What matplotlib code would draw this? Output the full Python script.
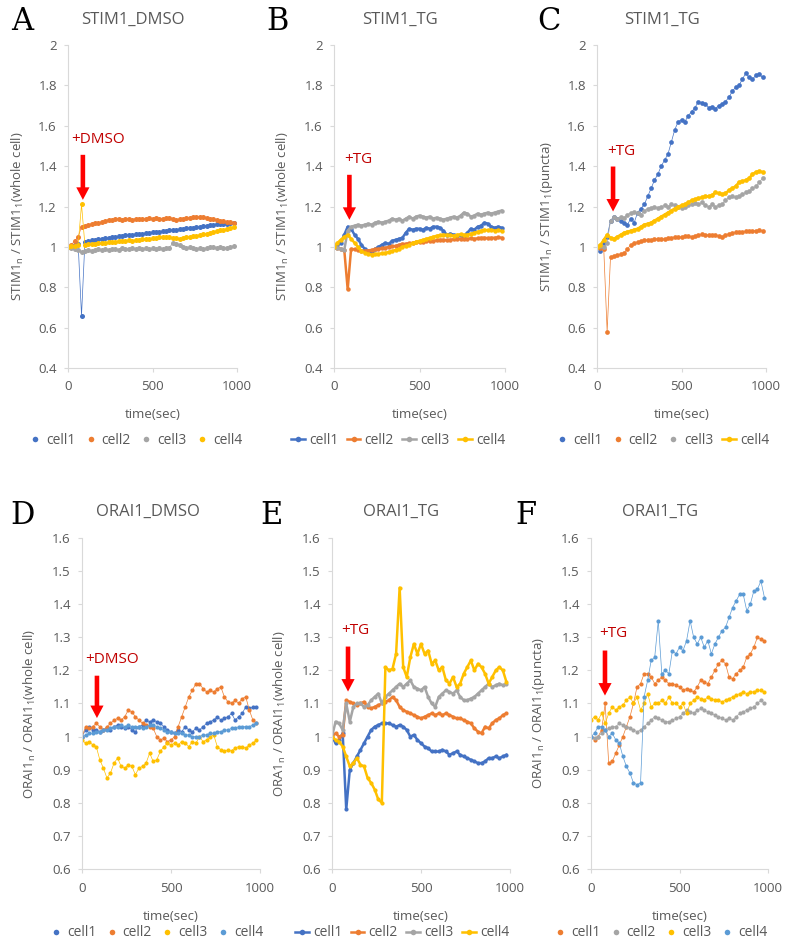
import matplotlib
matplotlib.use('Agg')
import matplotlib.pyplot as plt
from matplotlib.lines import Line2D

plt.rcParams['font.family'] = ['Open Sans', 'DejaVu Sans']
plt.rcParams['mathtext.default'] = 'regular'
plt.rcParams['axes.labelweight'] = 'normal'

# sampling times (sec), shared by all panels
time_sec = [0, 20, 40, 60, 80, 100, 120, 140, 160, 180,
            200, 220, 240, 260, 280, 300, 320, 340, 360, 380,
            400, 420, 440, 460, 480, 500, 520, 540, 560, 580,
            600, 620, 640, 660, 680, 700, 720, 740, 760, 780,
            800, 820, 840, 860, 880, 900, 920, 940, 960, 980]

# A  STIM1_DMSO (whole cell)
a_cell1 = [1.00, 1.005, 1.01, 1.015, 0.66, 1.025, 1.03, 1.032, 1.035, 1.038,
           1.04, 1.042, 1.045, 1.048, 1.05, 1.052, 1.055, 1.057, 1.058, 1.06,
           1.062, 1.065, 1.066, 1.068, 1.07, 1.072, 1.074, 1.075, 1.078, 1.08,
           1.082, 1.084, 1.085, 1.088, 1.09, 1.092, 1.093, 1.095, 1.097, 1.10,
           1.102, 1.105, 1.108, 1.11, 1.112, 1.112, 1.115, 1.115, 1.118, 1.12]
a_cell2 = [1.00, 1.01, 1.03, 1.05, 1.10, 1.105, 1.11, 1.115, 1.12, 1.118,
           1.125, 1.13, 1.135, 1.132, 1.14, 1.138, 1.135, 1.14, 1.138, 1.135,
           1.14, 1.138, 1.136, 1.14, 1.142, 1.14, 1.145, 1.14, 1.138, 1.142,
           1.145, 1.14, 1.135, 1.138, 1.14, 1.142, 1.145, 1.148, 1.15, 1.148,
           1.15, 1.145, 1.14, 1.138, 1.135, 1.13, 1.128, 1.125, 1.122, 1.12]
a_cell3 = [1.00, 0.995, 0.99, 0.985, 0.975, 0.98, 0.985, 0.982, 0.985, 0.988,
           0.985, 0.99, 0.985, 0.988, 0.99, 0.985, 0.992, 0.988, 0.99, 0.995,
           0.99, 0.992, 0.988, 0.995, 0.99, 0.993, 0.99, 0.995, 0.99, 0.992,
           0.995, 1.02, 1.015, 1.01, 1.0, 0.995, 0.998, 0.992, 0.99, 0.995,
           0.99, 0.995, 0.998, 1.0, 0.995, 1.0, 0.992, 0.995, 1.0, 1.005]
a_cell4 = [1.00, 1.002, 1.005, 1.01, 1.21, 1.01, 1.012, 1.015, 1.015, 1.018,
           1.02, 1.02, 1.022, 1.025, 1.025, 1.03, 1.028, 1.03, 1.032, 1.03,
           1.035, 1.035, 1.038, 1.04, 1.04, 1.043, 1.045, 1.048, 1.05, 1.05,
           1.048, 1.045, 1.042, 1.04, 1.045, 1.05, 1.048, 1.052, 1.055, 1.06,
           1.062, 1.065, 1.07, 1.075, 1.08, 1.082, 1.085, 1.09, 1.095, 1.10]

# B  STIM1_TG (whole cell)
b_cell1 = [1.00, 1.01, 1.02, 1.06, 1.10, 1.09, 1.06, 1.04, 1.01, 0.99,
           0.98, 0.975, 0.99, 1.0, 1.01, 1.02, 1.015, 1.03, 1.035, 1.04,
           1.045, 1.07, 1.09, 1.085, 1.09, 1.09, 1.085, 1.095, 1.09, 1.10,
           1.10, 1.095, 1.08, 1.06, 1.065, 1.06, 1.055, 1.06, 1.05, 1.07,
           1.09, 1.085, 1.10, 1.105, 1.12, 1.115, 1.10, 1.095, 1.10, 1.095]
b_cell2 = [1.00, 0.995, 0.99, 0.985, 0.79, 0.99, 0.988, 0.985, 0.982, 0.98,
           0.982, 0.985, 0.988, 0.99, 0.992, 0.995, 1.0, 1.002, 1.005, 1.01,
           1.015, 1.015, 1.018, 1.02, 1.022, 1.025, 1.025, 1.028, 1.03, 1.03,
           1.032, 1.035, 1.035, 1.033, 1.035, 1.038, 1.038, 1.04, 1.04, 1.04,
           1.042, 1.04, 1.042, 1.045, 1.045, 1.043, 1.045, 1.045, 1.047, 1.045]
b_cell3 = [1.00, 0.995, 0.99, 0.985, 1.08, 1.10, 1.105, 1.11, 1.105, 1.11,
           1.115, 1.11, 1.12, 1.125, 1.12, 1.125, 1.13, 1.14, 1.135, 1.14,
           1.13, 1.14, 1.15, 1.14, 1.15, 1.155, 1.15, 1.145, 1.15, 1.14,
           1.145, 1.14, 1.135, 1.14, 1.145, 1.15, 1.145, 1.155, 1.17, 1.165,
           1.15, 1.155, 1.165, 1.16, 1.165, 1.17, 1.165, 1.17, 1.175, 1.18]
b_cell4 = [1.00, 1.02, 1.035, 1.05, 1.06, 1.04, 1.02, 1.0, 0.98, 0.97,
           0.965, 0.962, 0.965, 0.965, 0.968, 0.97, 0.975, 0.98, 0.985, 0.99,
           1.0, 1.005, 1.01, 1.02, 1.025, 1.03, 1.035, 1.04, 1.045, 1.05,
           1.055, 1.058, 1.06, 1.06, 1.058, 1.055, 1.06, 1.062, 1.06, 1.06,
           1.065, 1.07, 1.075, 1.08, 1.085, 1.082, 1.085, 1.08, 1.082, 1.078]

# C  STIM1_TG (puncta)
c_cell1 = [1.00, 0.98, 1.02, 1.05, 1.13, 1.15, 1.14, 1.13, 1.12, 1.11,
           1.14, 1.12, 1.17, 1.19, 1.21, 1.25, 1.29, 1.33, 1.36, 1.40,
           1.43, 1.46, 1.52, 1.58, 1.62, 1.63, 1.62, 1.65, 1.67, 1.69,
           1.72, 1.715, 1.71, 1.69, 1.695, 1.685, 1.70, 1.71, 1.72, 1.74,
           1.77, 1.79, 1.80, 1.83, 1.86, 1.84, 1.83, 1.85, 1.855, 1.84]
c_cell2 = [1.00, 0.995, 0.99, 0.58, 0.95, 0.955, 0.96, 0.965, 0.97, 0.99,
           1.01, 1.02, 1.025, 1.03, 1.032, 1.035, 1.035, 1.04, 1.04, 1.038,
           1.04, 1.045, 1.045, 1.05, 1.05, 1.048, 1.052, 1.055, 1.05, 1.055,
           1.06, 1.062, 1.06, 1.058, 1.06, 1.06, 1.055, 1.05, 1.06, 1.065,
           1.07, 1.072, 1.075, 1.075, 1.078, 1.08, 1.08, 1.08, 1.082, 1.08]
c_cell3 = [1.00, 1.005, 1.0, 1.02, 1.13, 1.15, 1.14, 1.15, 1.145, 1.16,
           1.17, 1.175, 1.17, 1.16, 1.18, 1.19, 1.195, 1.20, 1.195, 1.20,
           1.205, 1.20, 1.21, 1.205, 1.20, 1.195, 1.20, 1.205, 1.21, 1.215,
           1.21, 1.22, 1.205, 1.20, 1.21, 1.20, 1.205, 1.21, 1.23, 1.245,
           1.25, 1.245, 1.25, 1.26, 1.27, 1.275, 1.29, 1.30, 1.32, 1.34]
c_cell4 = [1.00, 1.01, 1.035, 1.06, 1.045, 1.04, 1.05, 1.06, 1.07, 1.075,
           1.08, 1.085, 1.09, 1.10, 1.11, 1.115, 1.12, 1.13, 1.14, 1.15,
           1.16, 1.17, 1.18, 1.19, 1.20, 1.205, 1.21, 1.22, 1.23, 1.235,
           1.24, 1.245, 1.25, 1.25, 1.255, 1.27, 1.265, 1.26, 1.265, 1.28,
           1.29, 1.30, 1.32, 1.325, 1.33, 1.34, 1.36, 1.37, 1.375, 1.37]

# D  ORAI1_DMSO (whole cell)
d_cell1 = [1.00, 1.02, 1.03, 1.02, 1.02, 1.015, 1.02, 1.025, 1.02, 1.03,
           1.035, 1.03, 1.025, 1.03, 1.02, 1.015, 1.03, 1.035, 1.05, 1.045,
           1.05, 1.045, 1.04, 1.03, 1.02, 1.015, 1.01, 1.02, 1.015, 1.03,
           1.02, 1.015, 1.025, 1.02, 1.03, 1.04, 1.045, 1.05, 1.06, 1.05,
           1.055, 1.06, 1.07, 1.05, 1.06, 1.07, 1.09, 1.085, 1.09, 1.09]
d_cell2 = [1.00, 1.03, 1.025, 1.03, 1.04, 1.03, 1.02, 1.03, 1.04, 1.05,
           1.055, 1.05, 1.06, 1.08, 1.075, 1.06, 1.05, 1.04, 1.035, 1.03,
           1.025, 1.0, 0.99, 0.995, 0.985, 0.99, 1.0, 1.03, 1.06, 1.09,
           1.12, 1.14, 1.16, 1.16, 1.145, 1.135, 1.14, 1.135, 1.145, 1.15,
           1.12, 1.105, 1.10, 1.11, 1.10, 1.115, 1.12, 1.08, 1.05, 1.04]
d_cell3 = [0.99, 0.98, 0.985, 0.975, 0.97, 0.93, 0.905, 0.875, 0.89, 0.92,
           0.935, 0.91, 0.905, 0.915, 0.91, 0.885, 0.905, 0.91, 0.92, 0.95,
           0.925, 0.93, 0.955, 0.97, 0.98, 0.975, 0.98, 0.975, 0.985, 0.98,
           0.97, 0.985, 0.98, 1.0, 0.985, 0.99, 1.0, 1.005, 0.97, 0.96,
           0.955, 0.96, 0.958, 0.965, 0.97, 0.97, 0.965, 0.975, 0.98, 0.99]
d_cell4 = [1.00, 1.005, 1.01, 1.01, 1.015, 1.015, 1.02, 1.02, 1.025, 1.03,
           1.03, 1.035, 1.03, 1.035, 1.03, 1.03, 1.03, 1.025, 1.03, 1.035,
           1.035, 1.03, 1.025, 1.02, 1.015, 1.015, 1.01, 1.01, 1.01, 1.005,
           1.005, 1.0, 1.0, 1.0, 1.005, 1.005, 1.01, 1.01, 1.015, 1.015,
           1.02, 1.02, 1.025, 1.025, 1.03, 1.03, 1.03, 1.03, 1.035, 1.04]

# E  ORAI1_TG (whole cell)
e_cell1 = [1.00, 0.98, 0.99, 1.01, 0.78, 0.90, 0.92, 0.94, 0.96, 0.98,
           1.0, 1.02, 1.03, 1.035, 1.04, 1.04, 1.04, 1.035, 1.03, 1.035,
           1.03, 1.02, 1.0, 1.005, 0.99, 0.98, 0.97, 0.965, 0.955, 0.955,
           0.955, 0.96, 0.955, 0.945, 0.95, 0.955, 0.945, 0.94, 0.935, 0.93,
           0.925, 0.92, 0.92, 0.925, 0.935, 0.935, 0.94, 0.935, 0.94, 0.945]
e_cell2 = [1.00, 1.01, 1.0, 1.005, 1.11, 1.105, 1.10, 1.095, 1.10, 1.105,
           1.09, 1.085, 1.09, 1.095, 1.10, 1.105, 1.11, 1.12, 1.11, 1.09,
           1.08, 1.075, 1.07, 1.065, 1.06, 1.055, 1.06, 1.065, 1.07, 1.065,
           1.07, 1.065, 1.07, 1.065, 1.06, 1.055, 1.055, 1.05, 1.045, 1.04,
           1.025, 1.015, 1.01, 1.03, 1.025, 1.04, 1.05, 1.055, 1.065, 1.07]
e_cell3 = [1.00, 1.045, 1.04, 1.02, 1.10, 1.045, 1.09, 1.10, 1.10, 1.09,
           1.095, 1.11, 1.12, 1.13, 1.10, 1.12, 1.13, 1.14, 1.15, 1.16,
           1.15, 1.16, 1.17, 1.15, 1.145, 1.14, 1.15, 1.12, 1.10, 1.09,
           1.12, 1.13, 1.14, 1.135, 1.13, 1.14, 1.12, 1.11, 1.11, 1.115,
           1.12, 1.13, 1.14, 1.15, 1.16, 1.15, 1.155, 1.16, 1.155, 1.16]
e_cell4 = [1.00, 0.99, 0.985, 0.97, 0.94, 0.91, 0.92, 0.935, 0.915, 0.91,
           0.875, 0.86, 0.84, 0.81, 0.80, 1.21, 1.20, 1.205, 1.25, 1.45,
           1.21, 1.18, 1.24, 1.28, 1.25, 1.28, 1.25, 1.26, 1.22, 1.23,
           1.20, 1.21, 1.17, 1.16, 1.18, 1.15, 1.16, 1.19, 1.21, 1.23,
           1.20, 1.22, 1.21, 1.19, 1.16, 1.18, 1.20, 1.21, 1.20, 1.165]

# F  ORAI1_TG (puncta)
f_cell1 = [1.00, 0.99, 1.0, 1.02, 1.10, 0.92, 0.925, 0.95, 0.975, 1.0,
           1.03, 1.06, 1.10, 1.15, 1.16, 1.19, 1.19, 1.18, 1.16, 1.17,
           1.18, 1.17, 1.16, 1.16, 1.155, 1.15, 1.14, 1.145, 1.14, 1.135,
           1.15, 1.17, 1.165, 1.16, 1.18, 1.20, 1.22, 1.23, 1.22, 1.18,
           1.175, 1.19, 1.20, 1.21, 1.24, 1.25, 1.27, 1.30, 1.295, 1.29]
f_cell2 = [1.00, 0.995, 1.0, 1.01, 1.02, 1.025, 1.03, 1.03, 1.04, 1.035,
           1.03, 1.025, 1.02, 1.015, 1.02, 1.03, 1.04, 1.05, 1.06, 1.055,
           1.05, 1.045, 1.045, 1.05, 1.055, 1.06, 1.07, 1.08, 1.075, 1.07,
           1.08, 1.085, 1.08, 1.075, 1.07, 1.065, 1.06, 1.055, 1.05, 1.055,
           1.05, 1.06, 1.07, 1.075, 1.08, 1.085, 1.09, 1.10, 1.11, 1.10]
f_cell3 = [1.05, 1.06, 1.05, 1.07, 1.04, 1.07, 1.09, 1.08, 1.09, 1.095,
           1.11, 1.12, 1.10, 1.12, 1.08, 1.10, 1.13, 1.09, 1.10, 1.10,
           1.11, 1.10, 1.12, 1.10, 1.10, 1.09, 1.10, 1.07, 1.10, 1.11,
           1.12, 1.115, 1.11, 1.12, 1.115, 1.11, 1.11, 1.105, 1.11, 1.115,
           1.12, 1.125, 1.13, 1.135, 1.13, 1.135, 1.135, 1.14, 1.14, 1.135]
f_cell4 = [1.00, 1.01, 1.03, 1.03, 1.02, 1.0, 1.01, 0.99, 0.98, 0.94,
           0.91, 0.89, 0.86, 0.855, 0.86, 1.12, 1.17, 1.23, 1.24, 1.35,
           1.19, 1.2, 1.19, 1.26, 1.25, 1.27, 1.26, 1.29, 1.35, 1.30,
           1.28, 1.30, 1.27, 1.29, 1.25, 1.28, 1.30, 1.32, 1.33, 1.36,
           1.39, 1.41, 1.43, 1.43, 1.38, 1.40, 1.44, 1.445, 1.47, 1.42]

cell_names = ['cell1', 'cell2', 'cell3', 'cell4']
stim_yticks = [0.4, 0.6, 0.8, 1.0, 1.2, 1.4, 1.6, 1.8, 2.0]
stim_ylabels = ['0.4', '0.6', '0.8', '1', '1.2', '1.4', '1.6', '1.8', '2']
orai_yticks = [0.6, 0.7, 0.8, 0.9, 1.0, 1.1, 1.2, 1.3, 1.4, 1.5, 1.6]
orai_ylabels = ['0.6', '0.7', '0.8', '0.9', '1', '1.1', '1.2', '1.3', '1.4', '1.5', '1.6']

BLUE = '#4472C4'
ORANGE = '#ED7D31'
GREY = '#A5A5A5'
YELLOW = '#FFC000'
LBLUE = '#5B9BD5'
TXT = '#595959'
AXC = '#D9D9D9'

W, H = 786, 952
fig = plt.figure(figsize=(W / 100, H / 100), dpi=100)


def add_ax(left, right, top, bottom):
    return fig.add_axes([left / W, 1 - bottom / H, (right - left) / W, (bottom - top) / H])


def panel(box, series, colors, styles, yticks, ylabels, ylabel, title, title_xy,
          letter, letter_xy, arrow, leg_xy, ms=3.0):
    ax = add_ax(*box)
    for y, c, st in zip(series, colors, styles):
        if st == 'line':
            ax.plot(time_sec, y, color=c, lw=1.8, marker='o', ms=ms, mew=0)
        else:
            ax.plot(time_sec, y, color=c, lw=0.5, marker='o', ms=ms, mew=0)
    ax.set_xlim(0, 1000)
    ax.set_ylim(yticks[0], yticks[-1])
    ax.set_xticks([0, 500, 1000])
    ax.set_yticks(yticks)
    ax.set_yticklabels(ylabels)
    for s in ['top', 'right']:
        ax.spines[s].set_visible(False)
    for s in ['left', 'bottom']:
        ax.spines[s].set_color(AXC)
        ax.spines[s].set_linewidth(0.8)
    ax.tick_params(axis='both', colors=AXC, labelcolor=TXT, labelsize=9.5, length=3, width=0.8)
    ax.tick_params(axis='x', pad=6)
    ax.tick_params(axis='y', pad=5)
    ax.set_xlabel('time(sec)', color=TXT, fontsize=9.5, fontweight='normal')
    ax.xaxis.set_label_coords(0.5, -0.125)
    ax.set_ylabel(ylabel, color=TXT, fontsize=9.5, fontweight='normal')
    ax.yaxis.set_label_coords(-0.25, 0.47)

    ax_x, tail, head, lab, lab_x, lab_y = arrow
    ax.annotate('', xy=(ax_x, head), xytext=(ax_x, tail),
                arrowprops=dict(width=3.3, headwidth=9.5, headlength=9,
                                facecolor='#FF0000', edgecolor='none', shrink=0))
    ax.text(lab_x, lab_y, lab, color='#C00000', fontsize=11, ha='center', va='center')

    fig.text(title_xy[0] / W, 1 - title_xy[1] / H, title, color=TXT, fontsize=12,
             ha='center', va='center')
    fig.text(letter_xy[0] / W, 1 - letter_xy[1] / H, letter, family='DejaVu Serif',
             fontsize=22, ha='center', va='center', color='black')

    handles = []
    for c, st in zip(colors, styles):
        handles.append(Line2D([], [], color=c, marker='o', ms=4, mew=0,
                              lw=1.8 if st == 'line' else 0))
    fig.legend(handles, cell_names, loc='center', ncol=4, frameon=False,
               bbox_to_anchor=(leg_xy[0] / W, 1 - leg_xy[1] / H),
               fontsize=10, labelcolor=TXT, handlelength=1.0, handletextpad=0.3,
               columnspacing=0.6, borderpad=0)
    return ax


stim_lab_wc = 'STIM1$_{n}$ / STIM1$_{1}$(whole cell)'
stim_lab_p = 'STIM1$_{n}$ / STIM1$_{1}$(puncta)'

panel((68, 237, 45, 368), [a_cell1, a_cell2, a_cell3, a_cell4],
      [BLUE, ORANGE, GREY, YELLOW], ['dot'] * 4, stim_yticks, stim_ylabels,
      stim_lab_wc, 'STIM1_DMSO', (133, 20), 'A', (22, 22),
      (88, 1.456, 1.233, '+DMSO', 178, 1.53), (135, 440), ms=3.6)

panel((334, 505, 45, 368), [b_cell1, b_cell2, b_cell3, b_cell4],
      [BLUE, ORANGE, GREY, YELLOW], ['line'] * 4, stim_yticks, stim_ylabels,
      stim_lab_wc, 'STIM1_TG', (400, 20), 'B', (278, 22),
      (90, 1.357, 1.134, '+TG', 142, 1.434), (398, 440), ms=3.2)

panel((597, 766, 45, 368), [c_cell1, c_cell2, c_cell3, c_cell4],
      [BLUE, ORANGE, GREY, YELLOW], ['dot', 'dot', 'dot', 'line'], stim_yticks, stim_ylabels,
      stim_lab_p, 'STIM1_TG', (662, 20), 'C', (549, 22),
      (95, 1.398, 1.175, '+TG', 145, 1.47), (662, 440), ms=3.4)

panel((82, 260, 538, 869), [d_cell1, d_cell2, d_cell3, d_cell4],
      [BLUE, ORANGE, YELLOW, LBLUE], ['dot'] * 4, orai_yticks, orai_ylabels,
      'ORAI1$_{n}$ / ORAI1$_{1}$(whole cell)', 'ORAI1_DMSO',
      (148, 512), 'D', (22, 515),
      (84, 1.184, 1.056, '+DMSO', 168, 1.232), (156, 933), ms=3.0)

panel((332, 510, 538, 869), [e_cell1, e_cell2, e_cell3, e_cell4],
      [BLUE, ORANGE, GREY, YELLOW], ['line'] * 4, orai_yticks, orai_ylabels,
      'ORA1$_{n}$ / ORAI1$_{1}$(whole cell)', 'ORAI1_TG',
      (401, 512), 'E', (272, 515),
      (90, 1.272, 1.136, '+TG', 133, 1.32), (402, 933), ms=3.0)

panel((591, 768, 538, 869), [f_cell1, f_cell2, f_cell3, f_cell4],
      [ORANGE, GREY, YELLOW, LBLUE], ['dot'] * 4, orai_yticks, orai_ylabels,
      'ORAI1$_{n}$ / ORAI1$_{1}$(puncta)', 'ORAI1_TG',
      (660, 512), 'F', (526, 515),
      (79, 1.26, 1.124, '+TG', 126, 1.31), (660, 933), ms=3.0)

fig.savefig('out.png', dpi=100, facecolor='white')
